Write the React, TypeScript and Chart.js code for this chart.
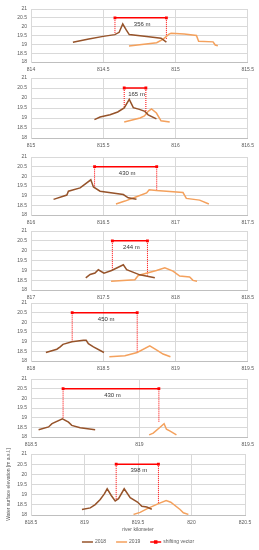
import React, { useEffect, useRef } from 'react';
import { Chart, registerables } from 'chart.js';

Chart.register(...registerables);

// ---- data ----
const xMins = [814, 815, 816, 817, 818, 818.5, 818.5];
const xMaxs = [815.5, 816.5, 817.5, 818.5, 819.5, 819.5, 820.5];
const yMin = 18;
const yMax = 21;
const tickStep = 0.5;

const km2018: number[][] = [
  [814.29, 814.40, 814.50, 814.58, 814.61, 814.635, 814.66, 814.68, 814.80, 814.90, 814.937],
  [815.439, 815.478, 815.547, 815.60, 815.645, 815.68, 815.708, 815.75, 815.788, 815.811, 815.868],
  [816.156, 816.248, 816.259, 816.34, 816.414, 816.432, 816.478, 816.639, 816.673, 816.73],
  [817.379, 817.409, 817.443, 817.466, 817.505, 817.558, 817.639, 817.662, 817.753, 817.857],
  [818.103, 818.179, 818.202, 818.221, 818.283, 818.363, 818.382, 818.397, 818.432, 818.505],
  [818.535, 818.581, 818.597, 818.645, 818.673, 818.688, 818.727, 818.796],
  [818.976, 819.054, 819.10, 819.147, 819.187, 819.212, 819.25, 819.287, 819.318, 819.371, 819.427, 819.495, 819.536, 819.582, 819.629],
];
const wse2018: number[][] = [
  [19.12, 19.3, 19.45, 19.55, 19.68, 20.15, 19.8, 19.55, 19.45, 19.35, 19.12],
  [18.92, 19.05, 19.16, 19.3, 19.5, 19.93, 19.52, 19.43, 19.33, 19.16, 18.96],
  [18.81, 19.03, 19.23, 19.4, 19.82, 19.45, 19.23, 19.06, 18.89, 18.81],
  [18.62, 18.79, 18.86, 19.03, 18.86, 18.99, 19.28, 19.03, 18.77, 18.62],
  [18.44, 18.61, 18.73, 18.86, 19.0, 19.07, 19.07, 18.9, 18.73, 18.44],
  [18.38, 18.52, 18.69, 18.94, 18.77, 18.6, 18.48, 18.38],
  [18.27, 18.35, 18.51, 18.76, 19.05, 19.29, 18.96, 18.69, 18.8, 19.29, 18.85, 18.64, 18.43, 18.39, 18.28],
];
const km2019: number[][] = [
  [814.678, 814.87, 814.915, 814.955, 814.97, 815.06, 815.145, 815.16, 815.26, 815.275, 815.293],
  [815.645, 815.755, 815.785, 815.811, 815.834, 815.868, 815.90, 815.96],
  [816.588, 816.65, 816.73, 816.80, 816.818, 816.868, 817.052, 817.075, 817.167, 817.231],
  [817.554, 817.719, 817.742, 817.868, 817.926, 817.983, 818.029, 818.098, 818.121, 818.149],
  [818.542, 818.65, 818.735, 818.822, 818.868, 818.914, 818.965],
  [819.045, 819.064, 819.094, 819.114, 819.125, 819.14, 819.171],
  [819.458, 819.52, 819.582, 819.691, 819.763, 819.806, 819.893, 819.924, 819.971],
];
const wse2019: number[][] = [
  [18.9, 19.09, 19.3, 19.58, 19.63, 19.58, 19.5, 19.18, 19.14, 18.96, 18.92],
  [18.8, 19.0, 19.1, 19.33, 19.45, 19.25, 18.86, 18.8],
  [18.57, 18.72, 18.94, 19.14, 19.31, 19.27, 19.16, 18.86, 18.77, 18.57],
  [18.44, 18.52, 18.74, 18.99, 19.13, 18.96, 18.71, 18.66, 18.49, 18.44],
  [18.22, 18.27, 18.44, 18.78, 18.58, 18.36, 18.22],
  [18.11, 18.2, 18.49, 18.69, 18.4, 18.32, 18.11],
  [18.03, 18.13, 18.3, 18.56, 18.71, 18.63, 18.27, 18.11, 18.03],
];
const vectorStart = [814.581, 815.645, 816.44, 817.563, 818.285, 818.648, 819.296];
const vectorEnd = [814.937, 815.795, 816.87, 817.806, 818.735, 819.09, 819.691];
const vectorElev = 20.5;
const dropLeft = [19.63, 19.5, 19.4, 18.99, 19.0, 18.94, 18.7];
const dropRight = [19.3, 19.3, 19.27, 18.74, 18.44, 18.75, 18.56];
const shiftLabels = ['356 m', '165 m', '430 m', '244 m', '450 m', '430 m', '398 m'];
const seriesNames = ['2018', '2019', 'shifting vector'];
const xTitle = 'river kilometer';
const yTitle = 'Water surface elevation [m a.s.l.]';

// ---- layout / style ----
const W = 259;
const top21 = [8, 77, 156, 230, 302, 378, 453];
const bot18 = [62, 138, 215, 290, 361, 437, 515];
const plotRight = [248, 248, 248, 248, 248, 248, 245];
const PLOT_LEFT = 31;
const PADT = 6;
const FONT = '"Liberation Sans", Arial, sans-serif';
const C2018 = '#96532A';
const C2019 = '#F4A15D';
const CRED = '#FF0000';
const GRID = '#d9d9d9';
const TICK = '#595959';

Chart.defaults.font.family = FONT;

function fmt(v: number | string) {
  const n = Number(v);
  return String(Math.round(n * 10) / 10);
}

function Panel({ i }: { i: number }) {
  const ref = useRef<HTMLCanvasElement>(null);
  const isLast = i === 6;
  const xh = isLast ? 20 : 12;
  const padB = isLast ? 15 : 0;
  const canvasTop = top21[i] - PADT;
  const canvasH = isLast ? 550 - canvasTop : bot18[i] - top21[i] + PADT + xh;

  useEffect(() => {
    const pts = (xs: number[], ys: number[]) => xs.map((x, k) => ({ x, y: ys[k] }));
    const labelPlugin = {
      id: 'shiftLabel' + i,
      afterDatasetsDraw(chart: any) {
        const { ctx, scales } = chart;
        const px = (scales.x.getPixelForValue(vectorStart[i]) + scales.x.getPixelForValue(vectorEnd[i])) / 2 + 1.5;
        const py = scales.y.getPixelForValue(vectorElev) + 6.5;
        ctx.save();
        ctx.font = '6px ' + FONT;
        ctx.fillStyle = '#333333';
        ctx.textAlign = 'center';
        ctx.textBaseline = 'middle';
        ctx.fillText(shiftLabels[i], px, py);
        ctx.restore();
      },
    };
    const legendPlugin = {
      id: 'customLegend',
      afterDraw(chart: any) {
        if (!isLast) return;
        const { ctx, chartArea } = chart;
        const colors = [C2018, C2019, CRED];
        ctx.save();
        ctx.font = '5px ' + FONT;
        const lineW = 11, gap = 2, spacing = 10;
        const widths = seriesNames.map((t) => lineW + gap + ctx.measureText(t).width);
        const total = widths.reduce((a, b) => a + b, 0) + spacing * (seriesNames.length - 1);
        let x = (chartArea.left + chartArea.right) / 2 - total / 2;
        const y = chart.height - 8;
        seriesNames.forEach((t, k) => {
          ctx.strokeStyle = colors[k];
          ctx.lineWidth = 1.5;
          ctx.beginPath();
          ctx.moveTo(x, y);
          ctx.lineTo(x + lineW, y);
          ctx.stroke();
          if (k === 2) {
            ctx.fillStyle = CRED;
            ctx.fillRect(x + lineW / 2 - 1.75, y - 1.75, 3.5, 3.5);
          }
          ctx.fillStyle = TICK;
          ctx.textAlign = 'left';
          ctx.textBaseline = 'middle';
          ctx.fillText(t, x + lineW + gap, y);
          x += widths[k] + spacing;
        });
        ctx.restore();
      },
    };

    const chart = new Chart(ref.current as HTMLCanvasElement, {
      type: 'scatter',
      data: {
        datasets: [
          {
            label: seriesNames[0],
            data: pts(km2018[i], wse2018[i]),
            showLine: true,
            borderColor: C2018,
            backgroundColor: C2018,
            borderWidth: 1.5,
            pointRadius: 0,
            tension: 0,
          },
          {
            label: seriesNames[1],
            data: pts(km2019[i], wse2019[i]),
            showLine: true,
            borderColor: C2019,
            backgroundColor: C2019,
            borderWidth: 1.5,
            pointRadius: 0,
            tension: 0,
          },
          {
            label: 'drop-left',
            data: [{ x: vectorStart[i], y: vectorElev }, { x: vectorStart[i], y: dropLeft[i] }],
            showLine: true,
            borderColor: CRED,
            borderWidth: 1,
            borderDash: [1, 1],
            pointRadius: 0,
          },
          {
            label: 'drop-right',
            data: [{ x: vectorEnd[i], y: vectorElev }, { x: vectorEnd[i], y: dropRight[i] }],
            showLine: true,
            borderColor: CRED,
            borderWidth: 1,
            borderDash: [1, 1],
            pointRadius: 0,
          },
          {
            label: seriesNames[2],
            data: [{ x: vectorStart[i], y: vectorElev }, { x: vectorEnd[i], y: vectorElev }],
            showLine: true,
            borderColor: CRED,
            backgroundColor: CRED,
            borderWidth: 1.5,
            pointStyle: 'rect',
            pointRadius: 2,
            pointBorderWidth: 0,
          },
        ],
      } as any,
      options: {
        animation: false,
        responsive: false,
        layout: { padding: { top: PADT, right: W - plotRight[i], left: 0, bottom: padB } },
        plugins: { legend: { display: false }, tooltip: { enabled: false } },
        scales: {
          x: {
            type: 'linear',
            min: xMins[i],
            max: xMaxs[i],
            afterFit: (s: any) => { s.height = xh; },
            ticks: {
              stepSize: tickStep,
              padding: 5,
              autoSkip: false,
              maxRotation: 0,
              color: TICK,
              font: { size: 5, family: FONT },
              callback: (v: any) => fmt(v),
            },
            grid: { color: GRID, lineWidth: 1, drawTicks: false },
            border: { color: '#bfbfbf' },
            title: {
              display: isLast,
              text: xTitle,
              color: TICK,
              font: { size: 5, family: FONT },
              padding: { top: 0, bottom: 2 },
            },
          },
          y: {
            type: 'linear',
            min: yMin,
            max: yMax,
            afterFit: (s: any) => { s.width = PLOT_LEFT; },
            ticks: {
              stepSize: tickStep,
              padding: 4,
              autoSkip: false,
              color: TICK,
              font: { size: 5, family: FONT },
              callback: (v: any) => fmt(v),
            },
            grid: { color: GRID, lineWidth: 1, drawTicks: false },
            border: { color: GRID },
            title: {
              display: isLast,
              text: yTitle,
              color: TICK,
              font: { size: 5, family: FONT },
              padding: { top: 6, bottom: 0 },
            },
          },
        },
      } as any,
      plugins: [labelPlugin, legendPlugin],
    });
    return () => chart.destroy();
  }, [i]);

  return (
    <div style={{ position: 'absolute', left: 0, top: canvasTop, width: W, height: canvasH }}>
      <canvas ref={ref} width={W} height={canvasH} style={{ display: 'block' }} />
    </div>
  );
}

export default function App() {
  return (
    <div style={{ position: 'absolute', left: 0, top: 0, width: W, height: 550, background: '#ffffff' }}>
      {xMins.map((_, i) => (
        <Panel key={i} i={i} />
      ))}
    </div>
  );
}
